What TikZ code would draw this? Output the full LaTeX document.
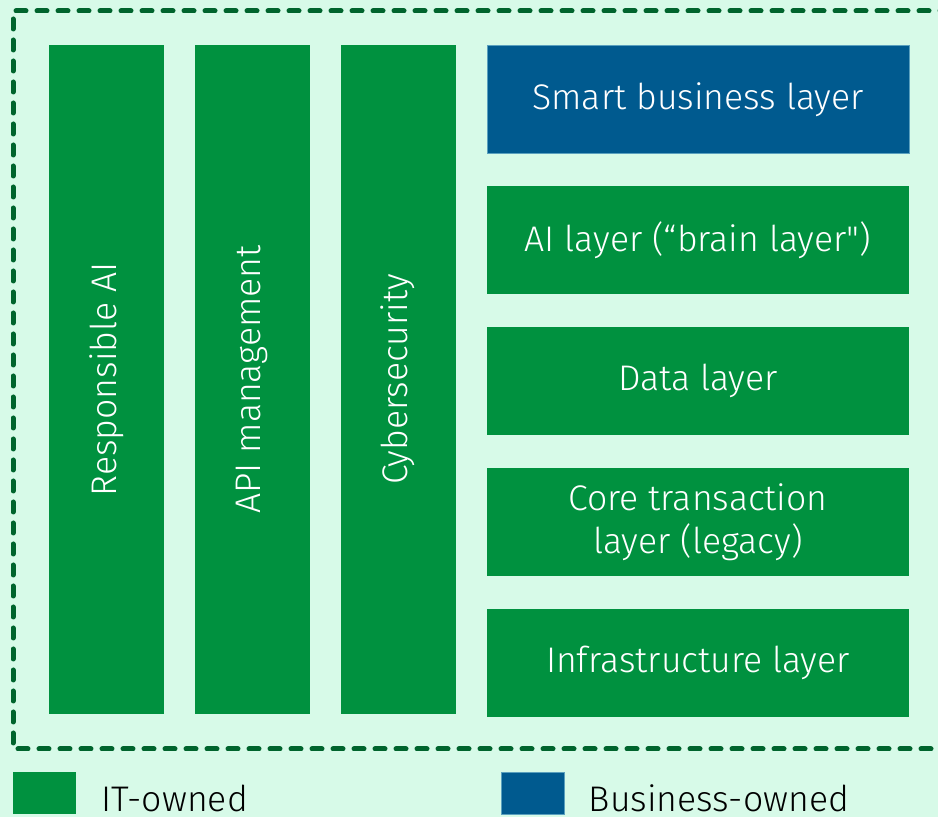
\documentclass[tikz,border=0pt]{standalone}
\usepackage{fontspec}
\setmainfont{Fira Sans}[UprightFont={* Light}, Ligatures=TeXOff]
\usetikzlibrary{positioning}

\definecolor{itgreen}{RGB}{0,145,63}
\definecolor{bizblue}{RGB}{0,90,143}
\definecolor{bizedge}{RGB}{90,160,190}
\definecolor{framegreen}{RGB}{0,100,45}
\definecolor{paper}{RGB}{215,250,232}

\begin{document}
\begin{tikzpicture}[x=0.5pt, y=-0.5pt,
    font=\fontsize{17.8}{21.5}\selectfont,
    pillar/.style={rectangle, fill=itgreen, text=white, minimum width=57.5pt, minimum height=334.5pt, inner sep=0pt},
    layer/.style={rectangle, fill=itgreen, text=white, align=center, minimum width=211pt, minimum height=54pt, inner sep=0pt},
    bizlayer/.style={layer, fill=bizblue, draw=bizedge, line width=0.4pt},
    keybox/.style={rectangle, minimum width=31.5pt, minimum height=21pt, inner sep=0pt},
    keytext/.style={anchor=west, inner sep=0pt, text=black, yshift=-2.5pt},
    frame/.style={draw=framegreen, line width=2.5pt, line cap=round, dash pattern=on 5pt off 5.5pt}]

    % page and background
    \fill[paper] (0,0) rectangle (938,817);
    \useasboundingbox (0,0) rectangle (938,817);

    % dashed boundary, open to the right
    \draw[frame] (950,11) -- (13,11) -- (13,749) -- (950,749);

    % vertical pillars
    \node (resp) [pillar] at (106.5,379.5) {\rotatebox{90}{Responsible AI}};
    \node (api) [pillar, right=15pt of resp] {\rotatebox{90}{API management}};
    \node (cyber) [pillar, right=15pt of api] {\rotatebox{90}{Cybersecurity}};

    % stacked layers
    \node (smart) [bizlayer] at (698,99.5) {Smart business layer};
    \node (ai) [layer, below=16pt of smart] {AI layer (“brain layer")};
    \node (data) [layer, below=16pt of ai] {Data layer};
    \node (core) [layer, below=16pt of data] {Core transaction\\layer (legacy)};
    \node (infra) [layer, below=16pt of core] {Infrastructure layer};

    % legend
    \node (keyit) [keybox, fill=itgreen] at (44.5,793) {};
    \node (keyittext) [keytext, right=12.5pt of keyit] {IT-owned};
    \node (keybiz) [keybox, fill=bizblue, draw=bizedge, line width=0.4pt] at (532.5,793) {};
    \node (keybiztext) [keytext, right=12pt of keybiz] {Business-owned};

\end{tikzpicture}
\end{document}
